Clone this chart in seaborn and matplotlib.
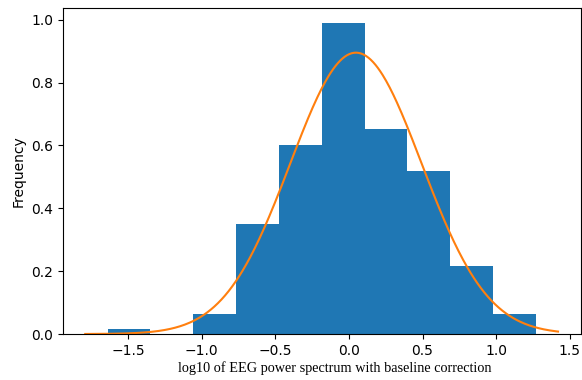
import numpy as np
import pandas as pd
import matplotlib
matplotlib.use("Agg")
import matplotlib.pyplot as plt
import seaborn as sns

# Histogram (density)
bin_edges = [-1.638, -1.347, -1.056, -0.766, -0.475, -0.184, 0.107, 0.398, 0.689, 0.979, 1.270]
bin_heights = [0.015, 0.0, 0.065, 0.35, 0.60, 0.988, 0.652, 0.519, 0.216, 0.065]

# Fitted normal curve parameters
fit_mean = 0.048
fit_std = 0.4457
curve_x_start = -1.79
curve_x_end = 1.42

bin_centers = [(a + b) / 2 for a, b in zip(bin_edges[:-1], bin_edges[1:])]
hist_df = pd.DataFrame({"x": bin_centers, "w": bin_heights})

xs = np.linspace(curve_x_start, curve_x_end, 400)
ys = np.exp(-0.5 * ((xs - fit_mean) / fit_std) ** 2) / (fit_std * np.sqrt(2 * np.pi))
curve_df = pd.DataFrame({"x": xs, "y": ys})

fig = plt.figure(figsize=(5.82, 3.80), dpi=100)
ax = fig.add_axes([0.108, 0.121, 0.890, 0.857])

sns.histplot(data=hist_df, x="x", weights="w", bins=bin_edges, stat="count",
             color="#1f77b4", alpha=1.0, edgecolor="none", linewidth=0, ax=ax)
sns.lineplot(data=curve_df, x="x", y="y", color="#ff7f0e", linewidth=1.5, ax=ax)

ax.set_xlim(-1.942, 1.575)
ax.set_ylim(0, 1.036)
ax.set_xticks([-1.5, -1.0, -0.5, 0.0, 0.5, 1.0, 1.5])
ax.set_yticks([0.0, 0.2, 0.4, 0.6, 0.8, 1.0])
ax.tick_params(labelsize=10)
ax.set_ylabel("Frequency", fontsize=10)
ax.set_xlabel("log10 of EEG power spectrum with baseline correction",
              fontsize=10.3, family="Liberation Serif", labelpad=3)
ax.xaxis.set_label_coords(0.525, -0.085)

fig.savefig("out.png", dpi=100)
